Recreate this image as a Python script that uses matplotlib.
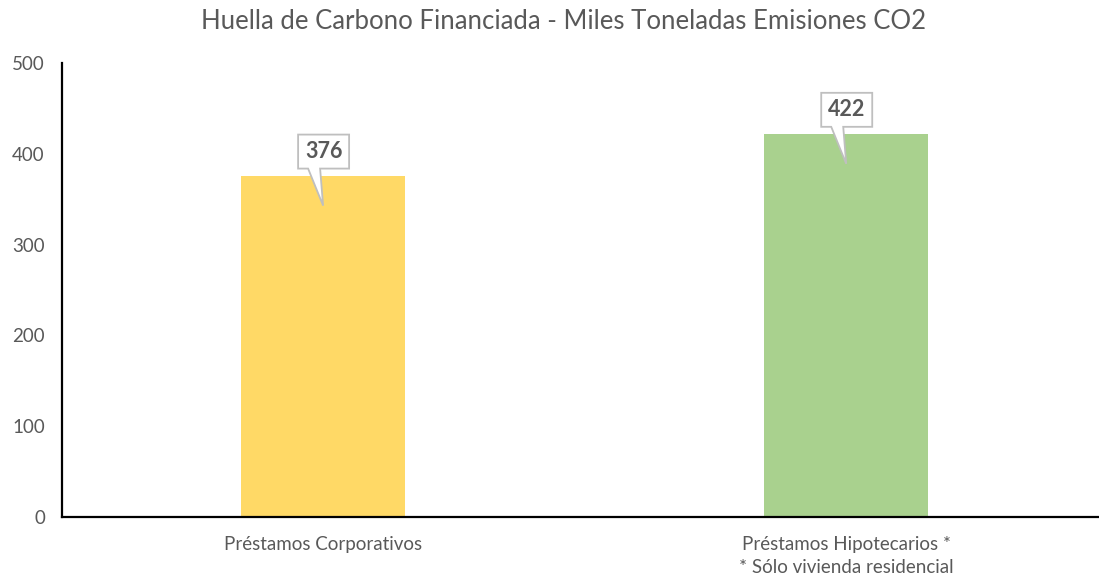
import matplotlib
matplotlib.use("Agg")
import matplotlib.pyplot as plt
import matplotlib.transforms as mtransforms
from matplotlib.patches import Polygon

categories = ["Préstamos Corporativos", "Préstamos Hipotecarios *\n* Sólo vivienda residencial"]
values = [376, 422]
colors = ["#FFD966", "#A9D18E"]
yticks = [0, 100, 200, 300, 400, 500]

plt.rcParams['font.family'] = ['Lato', 'DejaVu Sans']

fig = plt.figure(figsize=(10.99, 5.80), dpi=100)
ax = fig.add_axes([0.056, 0.1086, 0.952, 0.7828])

x = list(range(len(categories)))
ax.bar(x, values, width=0.314, color=colors, zorder=2)
ax.set_xlim(-0.5, 1.5)
ax.set_ylim(0, 500)
ax.set_yticks(yticks)
ax.set_xticks(x)
ax.set_xticklabels(categories, fontsize=13.5, color="#595959", linespacing=1.4)
ax.tick_params(axis='y', length=0, pad=12, labelsize=13.5, labelcolor="#595959")
ax.tick_params(axis='x', length=0, pad=14)
for s in ["top", "right"]:
    ax.spines[s].set_visible(False)
ax.spines["left"].set_linewidth(1.6)
ax.spines["bottom"].set_linewidth(1.6)
ax.spines["left"].set_color("black")
ax.spines["bottom"].set_color("black")

# callouts (offsets in pixels at dpi 100 -> inches)
box = [(-25, 7), (-15, 7), (0, -30), (-3, 7), (26, 7), (26, 41), (-25, 41)]
for xi, v in zip(x, values):
    tr = fig.dpi_scale_trans + mtransforms.ScaledTranslation(xi, v, ax.transData)
    verts = [(px / 100.0, py / 100.0) for px, py in box]
    poly = Polygon(verts, closed=True, facecolor="white", edgecolor="#BFBFBF",
                   linewidth=1.3, transform=tr, zorder=3, clip_on=False)
    ax.add_patch(poly)
    ax.text(0.005, 0.24, f"{v}", transform=tr, ha="center", va="center",
            fontsize=15.5, fontweight="bold", color="#595959", zorder=4)

fig.suptitle("Huella de Carbono Financiada - Miles Toneladas Emisiones CO2",
             x=0.513, y=0.985, fontsize=18.5, color="#595959")

fig.savefig("out.png", dpi=100)
